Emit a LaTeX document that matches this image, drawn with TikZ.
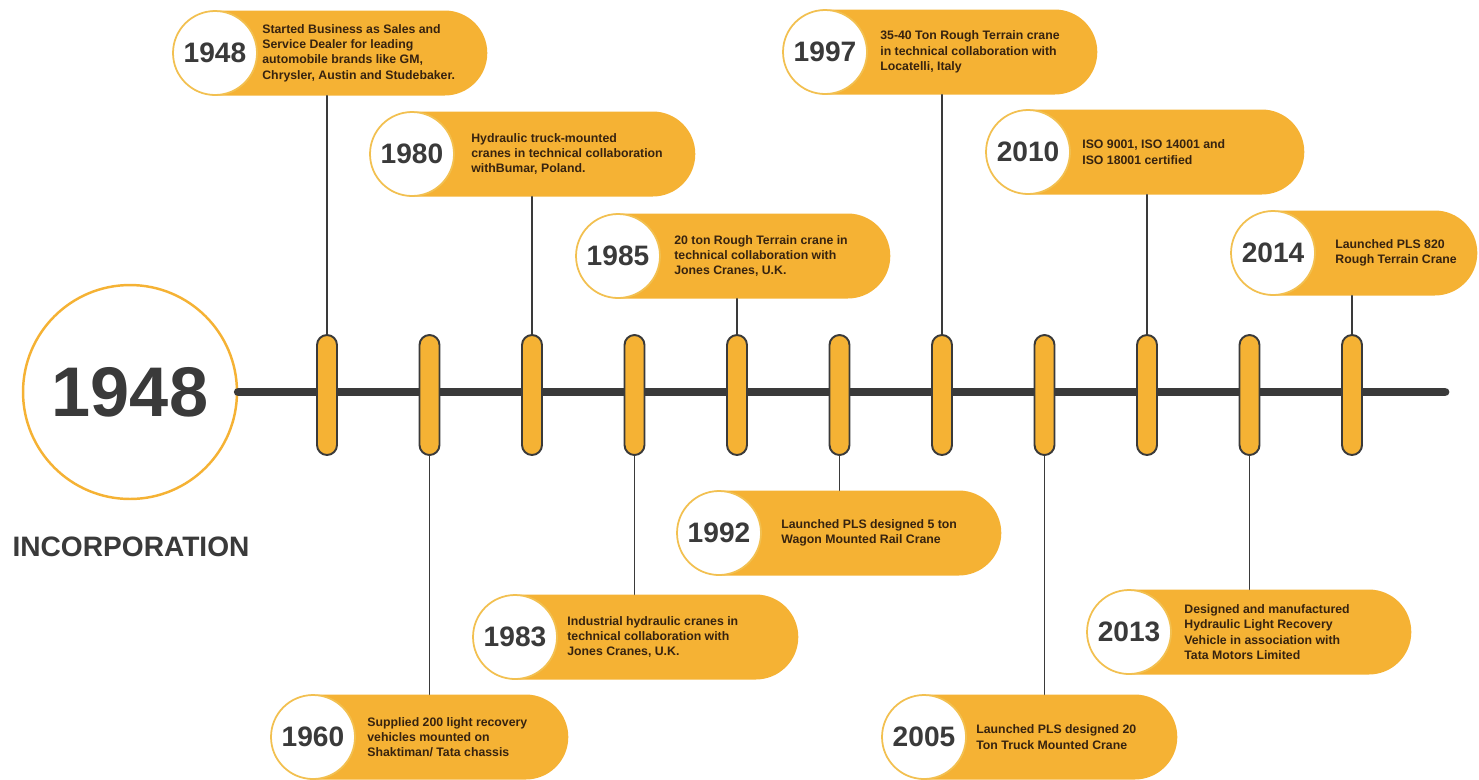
\documentclass[tikz,border=0pt]{standalone}
\usepackage{fontspec}
\setmainfont{Liberation Sans}
\usetikzlibrary{calc}
\definecolor{tlorange}{RGB}{245,178,52}
\definecolor{tldark}{RGB}{58,58,58}
\definecolor{tltext}{RGB}{55,35,15}
\definecolor{tlring}{RGB}{242,192,80}
\tikzset{
every picture/.append style={
    line join=round,
    line cap=round
  },
mainline/.style={line width=5pt, tldark},
tlpin/.style={draw=tldark, line width=1.1pt, fill=tlorange, rounded corners=0.2cm, minimum width=0.4cm, minimum height=2.4cm, inner sep=0pt},
stemline/.style={draw=tldark, line width=1pt},
pill/.style={fill=tlorange, rounded corners=0.85cm, minimum height=1.7cm, anchor=west, inner sep=0pt},
year/.style={circle, fill=white, draw=tlring, line width=1pt, minimum size=1.68cm, inner sep=0pt, text=tldark, font=\fontsize{16}{16}\selectfont\bfseries},
note/.style={anchor=west, align=left, inner sep=0pt, text=tltext, font=\fontsize{7}{8.7}\selectfont\bfseries}
}
\begin{document}
\begin{tikzpicture}[x=0.02cm,y=-0.02cm]
        \useasboundingbox (0,0) rectangle (1479,779);
        % start of the line
        \node [circle, draw=tlorange, line width=1.4pt, fill=white, minimum size=4.28cm, text=tldark, font=\fontsize{40}{40}\selectfont\bfseries] (inc) at (130,392) {1948};
        \node [text=tldark, font=\fontsize{16}{16}\selectfont\bfseries] (inclabel) at (131,547) {INCORPORATION};
        \coordinate (lineend) at (1445,392);
        \draw [mainline] (inc.east) -- (lineend);
        % pins on the line
        \node [tlpin] (t1) at (327,395) {};
        \node [tlpin] (t2) at (429.5,395) {};
        \node [tlpin] (t3) at (532,395) {};
        \node [tlpin] (t4) at (634.5,395) {};
        \node [tlpin] (t5) at (737,395) {};
        \node [tlpin] (t6) at (839.5,395) {};
        \node [tlpin] (t7) at (942,395) {};
        \node [tlpin] (t8) at (1044.5,395) {};
        \node [tlpin] (t9) at (1147,395) {};
        \node [tlpin] (t10) at (1249.5,395) {};
        \node [tlpin] (t11) at (1352,395) {};
        % above the line
        \node [pill, minimum width=6.28cm] (p1948) at (173,53) {};
        \node [year] (y1948) at (215,53) {1948};
        \node [note] (n1948) at (262,53) {Started Business as Sales and\\Service Dealer for leading\\automobile brands like GM,\\Chrysler, Austin and Studebaker.};
        \draw [stemline] (t1.north) -- (t1.north |- p1948.south);
        \node [pill, minimum width=6.5cm] (p1980) at (370,154) {};
        \node [year] (y1980) at (412,154) {1980};
        \node [note] (n1980) at (471,154) {Hydraulic truck-mounted\\cranes in technical collaboration\\withBumar, Poland.};
        \draw [stemline] (t3.north) -- (t3.north |- p1980.south);
        \node [pill, minimum width=6.28cm] (p1985) at (576,256) {};
        \node [year] (y1985) at (618,256) {1985};
        \node [note] (n1985) at (674,256) {20 ton Rough Terrain crane in\\technical collaboration with\\Jones Cranes, U.K.};
        \draw [stemline] (t5.north) -- (t5.north |- p1985.south);
        \node [pill, minimum width=6.28cm] (p1997) at (783,52) {};
        \node [year] (y1997) at (825,52) {1997};
        \node [note] (n1997) at (880,52) {35-40 Ton Rough Terrain crane\\in technical collaboration with\\Locatelli, Italy};
        \draw [stemline] (t7.north) -- (t7.north |- p1997.south);
        \node [pill, minimum width=6.36cm] (p2010) at (986,152) {};
        \node [year] (y2010) at (1028,152) {2010};
        \node [note] (n2010) at (1082,152) {ISO 9001, ISO 14001 and\\ISO 18001 certified};
        \draw [stemline] (t9.north) -- (t9.north |- p2010.south);
        \node [pill, minimum width=4.92cm] (p2014) at (1231,253) {};
        \node [year] (y2014) at (1273,253) {2014};
        \node [note] (n2014) at (1335,253) {Launched PLS 820\\Rough Terrain Crane};
        \draw [stemline] (t11.north) -- (t11.north |- p2014.south);
        % below the line
        \node [pill, minimum width=5.94cm] (p1960) at (271,737) {};
        \node [year] (y1960) at (313,737) {1960};
        \node [note] (n1960) at (367,737) {Supplied 200 light recovery\\vehicles mounted on\\Shaktiman/ Tata chassis};
        \draw [stemline] (t2.south) -- (t2.south |- p1960.north);
        \node [pill, minimum width=6.5cm] (p1983) at (473,637) {};
        \node [year] (y1983) at (515,637) {1983};
        \node [note] (n1983) at (567,637) {Industrial hydraulic cranes in\\technical collaboration with\\Jones Cranes, U.K.};
        \draw [stemline] (t4.south) -- (t4.south |- p1983.north);
        \node [pill, minimum width=6.48cm] (p1992) at (677,533) {};
        \node [year] (y1992) at (719,533) {1992};
        \node [note] (n1992) at (781,533) {Launched PLS designed 5 ton\\Wagon Mounted Rail Crane};
        \draw [stemline] (t6.south) -- (t6.south |- p1992.north);
        \node [pill, minimum width=5.9cm] (p2005) at (882,737) {};
        \node [year] (y2005) at (924,737) {2005};
        \node [note] (n2005) at (976,737) {Launched PLS designed 20\\Ton Truck Mounted Crane};
        \draw [stemline] (t8.south) -- (t8.south |- p2005.north);
        \node [pill, minimum width=6.48cm] (p2013) at (1087,632) {};
        \node [year] (y2013) at (1129,632) {2013};
        \node [note] (n2013) at (1184,632) {Designed and manufactured\\Hydraulic Light Recovery\\Vehicle in association with\\Tata Motors Limited};
        \draw [stemline] (t10.south) -- (t10.south |- p2013.north);
    \end{tikzpicture}
\end{document}
